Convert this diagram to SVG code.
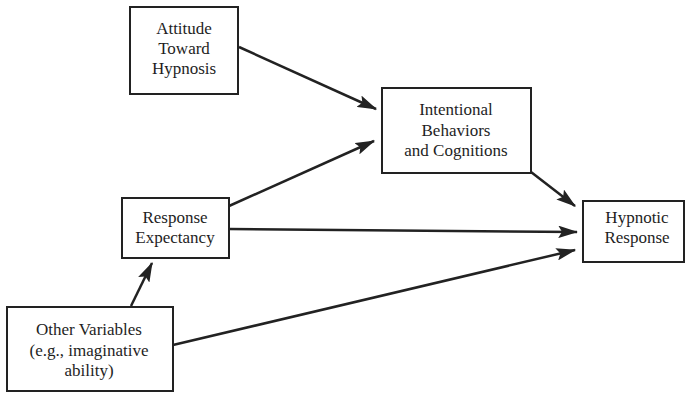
<svg xmlns="http://www.w3.org/2000/svg" width="685" height="394" viewBox="0 0 685 394">
<defs>
<style>
.box{fill:#fff;stroke:#222;stroke-width:2}
.lbl{font-family:'Liberation Serif','Times New Roman','DejaVu Serif',serif;font-size:17px;fill:#1e1e1e;text-anchor:middle}
.con{stroke:#222;stroke-width:2.5;fill:none}
</style>
<marker id="ah" markerWidth="8" markerHeight="5" refX="7.5" refY="2.5" orient="auto" markerUnits="strokeWidth">
<path d="M0,0 L8,2.5 L0,5 L1.5,2.5 Z" fill="#222"/>
</marker>
</defs>
<rect width="685" height="394" fill="#fff"/>
<g id="connectors">
<line class="con" x1="239" y1="47" x2="376" y2="109" marker-end="url(#ah)"/>
<line class="con" x1="229" y1="206" x2="374" y2="141" marker-end="url(#ah)"/>
<line class="con" x1="229" y1="229" x2="577" y2="232" marker-end="url(#ah)"/>
<line class="con" x1="531" y1="172" x2="575" y2="206" marker-end="url(#ah)"/>
<line class="con" x1="173" y1="345" x2="575" y2="250" marker-end="url(#ah)"/>
<line class="con" x1="131" y1="306" x2="152" y2="263" marker-end="url(#ah)"/>
</g>
<g id="attitude">
<rect class="box" x="130" y="7" width="108" height="87"/>
<text class="lbl" x="184" y="34">Attitude</text>
<text class="lbl" x="184" y="54">Toward</text>
<text class="lbl" x="184" y="74">Hypnosis</text>
</g>
<g id="intentional">
<rect class="box" x="382" y="88" width="149" height="85"/>
<text class="lbl" x="456" y="115">Intentional</text>
<text class="lbl" x="456" y="136">Behaviors</text>
<text class="lbl" x="456" y="156">and Cognitions</text>
</g>
<g id="hypnotic">
<rect class="box" x="583" y="201" width="101" height="61"/>
<text class="lbl" x="637" y="223">Hypnotic</text>
<text class="lbl" x="637" y="243">Response</text>
</g>
<g id="response">
<rect class="box" x="122" y="198" width="107" height="60"/>
<text class="lbl" x="175" y="223">Response</text>
<text class="lbl" x="175" y="243">Expectancy</text>
</g>
<g id="other">
<rect class="box" x="7" y="307" width="166" height="84"/>
<text class="lbl" x="89" y="335">Other Variables</text>
<text class="lbl" x="89" y="356">(e.g., imaginative</text>
<text class="lbl" x="89" y="376">ability)</text>
</g>
</svg>
